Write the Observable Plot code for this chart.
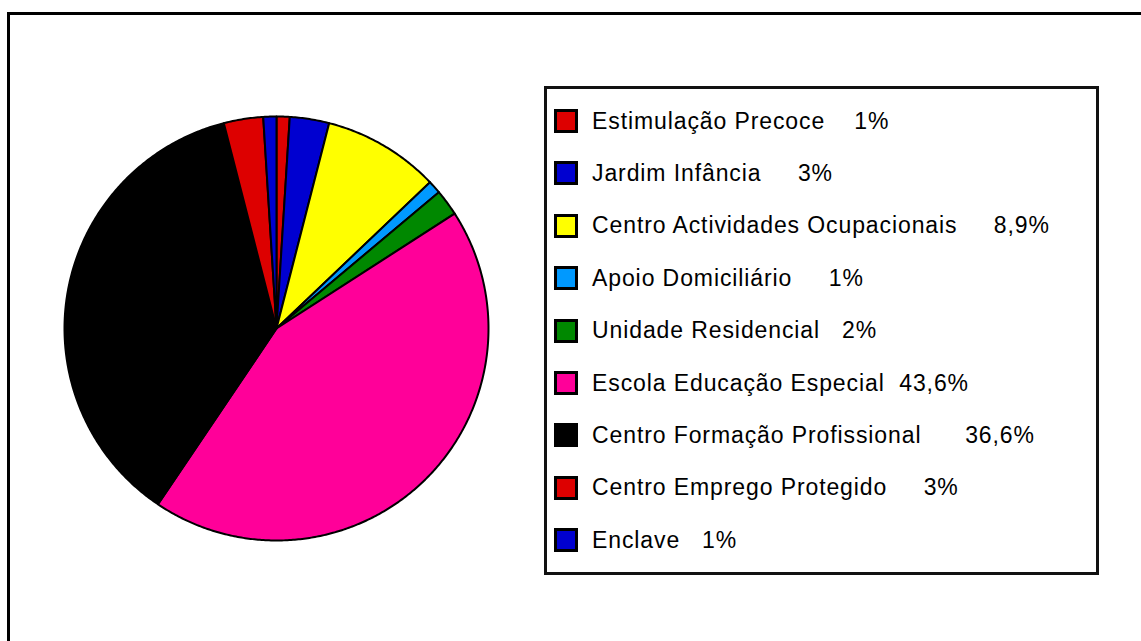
<!DOCTYPE html>
<html>
<head>
<meta charset="utf-8">
<script src="https://cdn.jsdelivr.net/npm/d3@7"></script>
<script src="https://cdn.jsdelivr.net/npm/@observablehq/plot@0.6"></script>
<style>
  html, body { margin: 0; padding: 0; background: #fff; }
  #wrap { position: relative; width: 1141px; height: 641px; overflow: hidden; background: #fff; font-family: "Liberation Sans", Arial, sans-serif; }
  #frame { position: absolute; left: 7px; top: 12px; width: 1300px; height: 800px; border: 3px solid #000; box-sizing: border-box; }
  #chart { position: absolute; left: 0; top: 0; }
  #legend { position: absolute; left: 544px; top: 86px; width: 555px; height: 489px; border: 3px solid #111; box-sizing: border-box; background: #fff; }
  .row { position: absolute; left: 554px; height: 24px; display: flex; align-items: center; white-space: pre; }
  .sw { width: 24px; height: 24px; border: 3px solid #000; box-sizing: border-box; margin-right: 14px; flex: none; }
  .lbl { font-size: 23px; letter-spacing: 0.9px; color: #000; }
</style>
</head>
<body>
<div id="wrap">
  <div id="frame"></div>
  <div id="chart"></div>
  <div id="legend"></div>
</div>
<script>
// ---- data ----
const categories = [
  "Estimulação Precoce",
  "Jardim Infância",
  "Centro Actividades Ocupacionais",
  "Apoio Domiciliário",
  "Unidade Residencial",
  "Escola Educação Especial",
  "Centro Formação Profissional",
  "Centro Emprego Protegido",
  "Enclave"
];
const values = [1, 3, 8.9, 1, 2, 43.6, 36.6, 3, 1];
const colors = ["#dd0000", "#0000d0", "#ffff00", "#0099ff", "#008800", "#ff0099", "#000000", "#dd0000", "#0000d0"];
// spaces between label and percentage, as typed in the original legend text
const labelGaps = [4, 5, 5, 5, 3, 2, 6, 5, 3];

// ---- build pie slice outlines ----
const pie = d3.pie().sort(null).value(d => d.value).startAngle(0).endAngle(2 * Math.PI);
const table = categories.map((name, i) => ({name, value: values[i]}));
const arcs = pie(table);
const pts = [];
for (const a of arcs) {
  const name = a.data.name;
  pts.push({name, x: 0, y: 0});
  const n = Math.max(2, Math.ceil((a.endAngle - a.startAngle) / (Math.PI / 360)));
  for (let k = 0; k <= n; k++) {
    const t = a.startAngle + (a.endAngle - a.startAngle) * k / n;
    pts.push({name, x: Math.sin(t), y: Math.cos(t)});
  }
  pts.push({name, x: 0, y: 0});
}

// ---- layout ----
const W = 1141, H = 641;
const cx = 276, cy = 328, r = 212;

const plot = Plot.plot({
  width: W,
  height: H,
  marginLeft: cx - r,
  marginRight: W - (cx + r),
  marginTop: cy - r,
  marginBottom: H - (cy + r),
  x: {domain: [-1, 1], axis: null},
  y: {domain: [-1, 1], axis: null},
  color: {domain: categories, range: colors},
  style: {background: "transparent", overflow: "visible"},
  marks: [
    Plot.line(pts, {x: "x", y: "y", z: "name", fill: "name", stroke: "#000", strokeWidth: 2, strokeLinejoin: "round", curve: "linear"})
  ]
});
document.getElementById("chart").appendChild(plot);

// ---- legend ----
const wrap = document.getElementById("wrap");
const fmt = v => String(v).replace(".", ",") + "%";
categories.forEach((name, i) => {
  const row = document.createElement("div");
  row.className = "row";
  row.style.top = (109 + 52.4 * i) + "px";
  const sw = document.createElement("div");
  sw.className = "sw";
  sw.style.background = colors[i];
  const lbl = document.createElement("span");
  lbl.className = "lbl";
  lbl.textContent = name + " ".repeat(labelGaps[i]) + fmt(values[i]);
  row.appendChild(sw);
  row.appendChild(lbl);
  wrap.appendChild(row);
});
</script>
</body>
</html>
